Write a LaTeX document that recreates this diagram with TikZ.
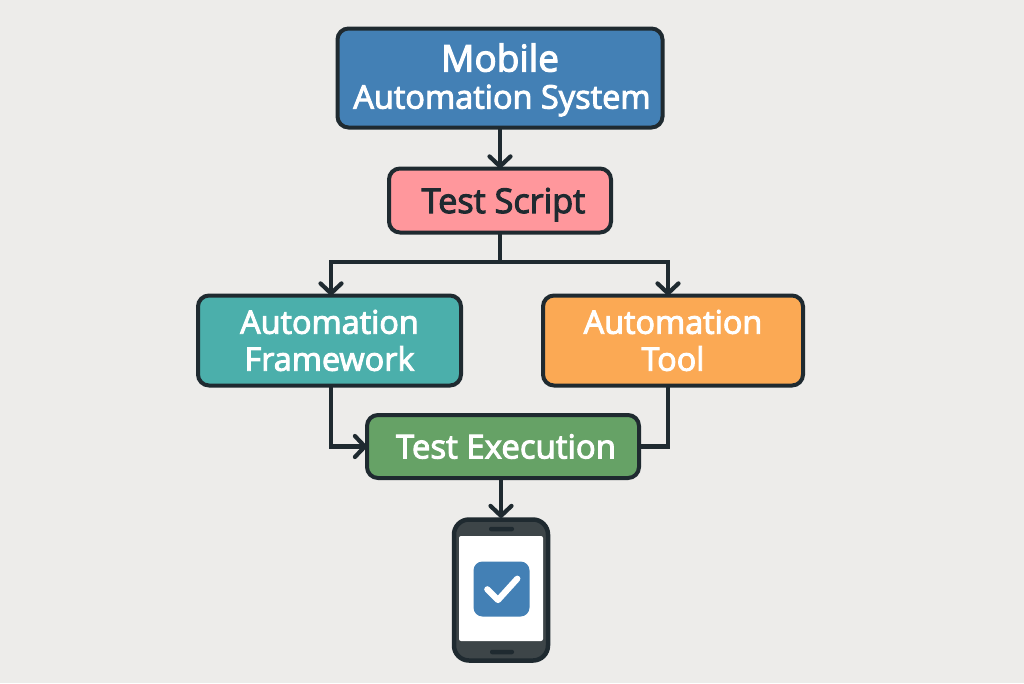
\documentclass[tikz,border=0pt]{standalone}
\usepackage{fontspec}
\setmainfont[FakeBold=3]{Open Sans}
\usetikzlibrary{arrows.meta}
\definecolor{bgc}{HTML}{EDECEA}
\definecolor{ink}{HTML}{1F2A30}
\definecolor{blu}{HTML}{4380B5}
\definecolor{pnk}{HTML}{FF979C}
\definecolor{tea}{HTML}{4BAFAB}
\definecolor{org}{HTML}{FBA954}
\definecolor{grn}{HTML}{66A266}
\definecolor{shell}{HTML}{3D4548}
\tikzset{
 x=1pt,y=-1pt,
 boxnode/.style={draw=ink,line width=4pt,rounded corners=11pt,align=center,inner sep=0pt,outer sep=0pt,text=white},
 conn/.style={draw=ink,line width=4.2pt},
 arr/.style={conn,-{Straight Barb[length=10pt,width=21pt,line width=4.2pt,round]}},
}
\begin{document}
\begin{tikzpicture}
\useasboundingbox (0,0) rectangle (1024,683);
\fill[bgc] (0,0) rectangle (1024,683);
\node[boxnode,fill=blu,minimum width=325pt,minimum height=99pt,font=\fontsize{37}{37}\selectfont,text depth=4pt] (mobile) at (500,78)
  {Mobile\\{\fontsize{32.5}{37}\selectfont\hspace*{4pt}Automation System}};
\node[boxnode,fill=pnk,text=ink,minimum width=222pt,minimum height=64pt,font=\fontsize{34.2}{38}\selectfont,text depth=0pt] (script) at (500,200.5)
  {\hspace*{7pt}Test Script};
\node[boxnode,fill=tea,minimum width=263pt,minimum height=90pt,font=\fontsize{32.4}{37}\selectfont] (fw) at (329.5,340.5)
  {Automation\\Framework};
\node[boxnode,fill=org,minimum width=260pt,minimum height=90pt,font=\fontsize{32.4}{37}\selectfont] (tool) at (673,340.5)
  {Automation\\Tool};
\node[boxnode,fill=grn,minimum width=272pt,minimum height=63pt,font=\fontsize{33}{38}\selectfont] (exec) at (503,446.5)
  {\hspace*{6pt}Test Execution};
\node[draw=ink,fill=shell,line width=4.5pt,rounded corners=15pt,minimum width=94pt,minimum height=141pt,inner sep=0pt,outer sep=1.5pt] (phone) at (501,590) {};
\node[fill=white,minimum width=84pt,minimum height=105pt,inner sep=0pt,rounded corners=2pt] (screen) at (501,588.5) {};
\node[fill=ink,minimum width=25pt,minimum height=4.5pt,inner sep=0pt,rounded corners=2pt] (spk) at (501.5,529) {};
\node[fill=ink,minimum width=24pt,minimum height=4.5pt,inner sep=0pt,rounded corners=2pt] (btn) at (502,652) {};
\node[fill=blu,minimum width=56pt,minimum height=55pt,inner sep=0pt,rounded corners=9pt] (check) at (501.5,589) {};
\draw[white,line width=6.2pt,line cap=round,line join=round] (487.3,589.3) -- (498,600) -- (517.3,578.7);
\coordinate (j) at (500,262);
\draw[arr] (mobile.south) -- (script.north);
\draw[conn] (script.south) -- (j);
\draw[arr] (j) -| ([xshift=1.5pt]fw.north);
\draw[arr] (j) -| ([xshift=-5pt]tool.north);
\draw[arr] ([xshift=1.5pt]fw.south) |- (exec.west);
\draw[conn] ([xshift=-5pt]tool.south) |- (exec.east);
\draw[arr] (exec.south -| phone.north) -- (phone.north);
\end{tikzpicture}
\end{document}
